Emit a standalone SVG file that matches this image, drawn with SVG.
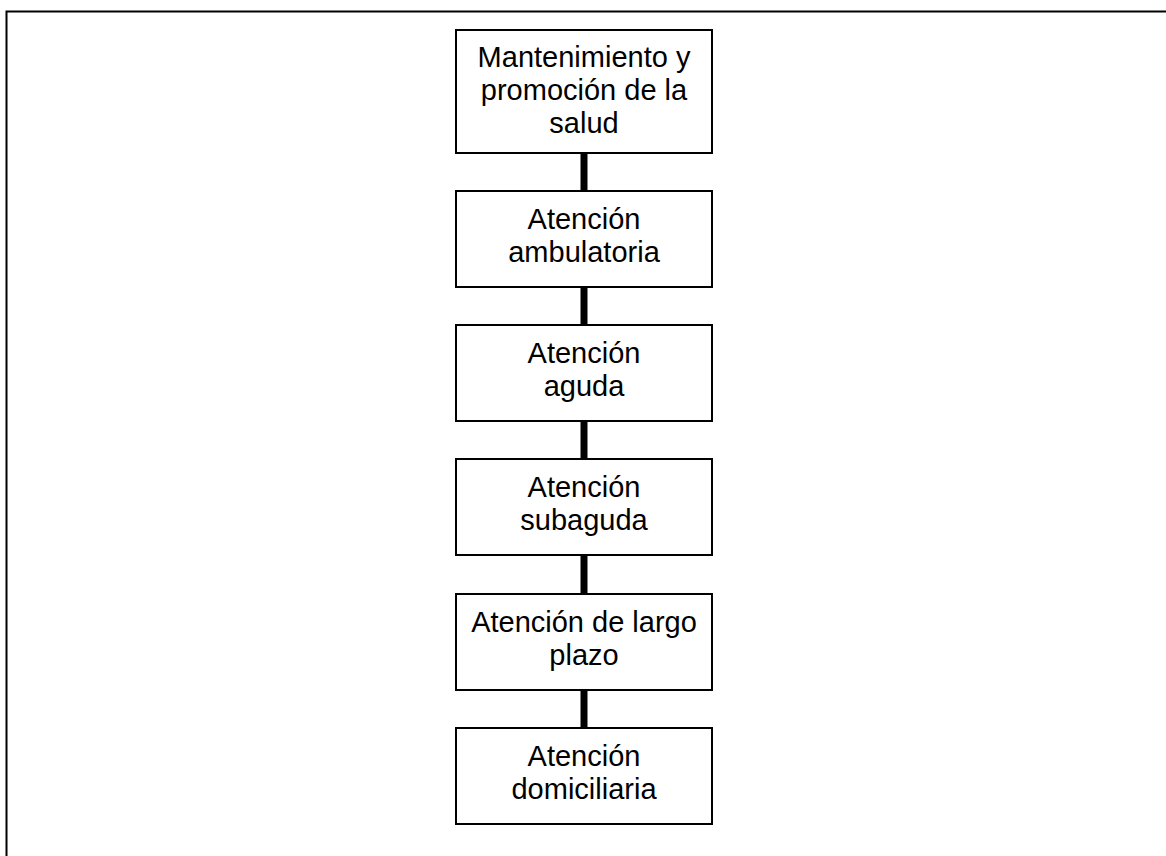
<svg xmlns="http://www.w3.org/2000/svg" width="1166" height="856" viewBox="0 0 1166 856">
  <style>
    .frame { fill: none; stroke: #000; stroke-width: 2; }
    .box { fill: #fff; stroke: #000; stroke-width: 2; }
    .link { stroke: #000; stroke-width: 7; fill: none; }
    .label { font-family: "Liberation Sans", Arial, sans-serif; font-size: 29px; fill: #000; text-anchor: middle; }
  </style>
  <rect width="1166" height="856" fill="#fff"/>
  <!-- page frame, running past the right and bottom edges -->
  <rect class="frame" x="6.5" y="11.5" width="1200" height="900"/>

  <g id="connectors">
    <line class="link" x1="584" y1="153" x2="584" y2="191"/>
    <line class="link" x1="584" y1="287" x2="584" y2="325"/>
    <line class="link" x1="584" y1="421" x2="584" y2="459"/>
    <line class="link" x1="584" y1="555" x2="584" y2="594"/>
    <line class="link" x1="584" y1="690" x2="584" y2="728"/>
  </g>

  <g id="node-promocion">
    <rect class="box" x="456" y="30" width="256" height="123"/>
    <text class="label" x="584" y="67">Mantenimiento y</text>
    <text class="label" x="584" y="100">promoción de la</text>
    <text class="label" x="584" y="133">salud</text>
  </g>
  <g id="node-ambulatoria">
    <rect class="box" x="456" y="191" width="256" height="96"/>
    <text class="label" x="584" y="229">Atención</text>
    <text class="label" x="584" y="262">ambulatoria</text>
  </g>
  <g id="node-aguda">
    <rect class="box" x="456" y="325" width="256" height="96"/>
    <text class="label" x="584" y="363">Atención</text>
    <text class="label" x="584" y="396">aguda</text>
  </g>
  <g id="node-subaguda">
    <rect class="box" x="456" y="459" width="256" height="96"/>
    <text class="label" x="584" y="497">Atención</text>
    <text class="label" x="584" y="530">subaguda</text>
  </g>
  <g id="node-largo-plazo">
    <rect class="box" x="456" y="594" width="256" height="96"/>
    <text class="label" x="584" y="632">Atención de largo</text>
    <text class="label" x="584" y="665">plazo</text>
  </g>
  <g id="node-domiciliaria">
    <rect class="box" x="456" y="728" width="256" height="96"/>
    <text class="label" x="584" y="766">Atención</text>
    <text class="label" x="584" y="799">domiciliaria</text>
  </g>
</svg>
